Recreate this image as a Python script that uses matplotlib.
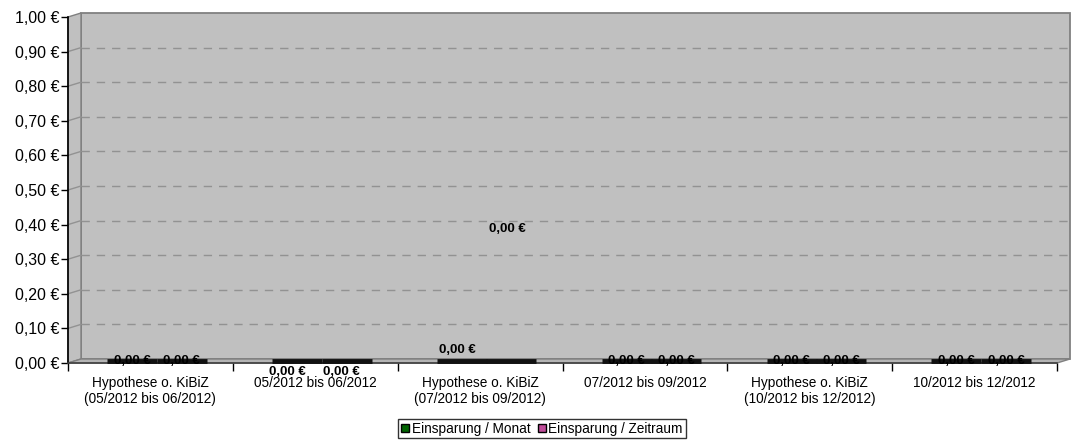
import matplotlib
matplotlib.use("Agg")
import matplotlib.pyplot as plt
from matplotlib.patches import Polygon, Rectangle, Patch
import numpy as np

plt.rcParams['font.family'] = ['Liberation Sans', 'DejaVu Sans']

# data
categories = ["Hypothese o. KiBiZ\n(05/2012 bis 06/2012)", "05/2012 bis 06/2012",
              "Hypothese o. KiBiZ\n(07/2012 bis 09/2012)", "07/2012 bis 09/2012",
              "Hypothese o. KiBiZ\n(10/2012 bis 12/2012)", "10/2012 bis 12/2012"]
monat = [0.0, 0.0, 0.0, 0.0, 0.0, 0.0]
zeitraum = [0.0, 0.0, 0.0, 0.0, 0.0, 0.0]
yticks = [0.0, 0.1, 0.2, 0.3, 0.4, 0.5, 0.6, 0.7, 0.8, 0.9, 1.0]

def euro(v):
    return f"{v:.2f}".replace(".", ",") + " €"

fig = plt.figure(figsize=(10.77, 4.4), dpi=100)
ax = fig.add_axes([68/1077, 77/440, 989/1077, 346/440])
ax.set_xlim(0, 6)
ax.set_ylim(0, 1)
ax.patch.set_visible(False)
for s in ax.spines.values():
    s.set_visible(False)

# fake 3d depth (in data units)
dx = 13/989*6
dy = 4/346
wall = "#c0c0c0"
edge = "#808080"

ax.add_patch(Rectangle((dx, dy), 6, 1, facecolor=wall, edgecolor=edge, lw=1.3, zorder=0, clip_on=False))
ax.add_patch(Polygon([(0, 0), (0, 1), (dx, 1+dy), (dx, dy)], closed=True,
                     facecolor=wall, edgecolor=edge, lw=1.0, zorder=0.5, clip_on=False))
ax.add_patch(Polygon([(0, 0), (6, 0), (6+dx, dy), (dx, dy)], closed=True,
                     facecolor="#b4b4b4", edgecolor=edge, lw=1.0, zorder=0.5, clip_on=False))

for y in yticks[1:-1]:
    ax.plot([dx, 6+dx], [y+dy, y+dy], ls=(0, (6, 5)), color="#929292", lw=1.0, zorder=1, clip_on=False)
    ax.plot([0, dx], [y, y+dy], color="#929292", lw=1.0, zorder=1, clip_on=False)

# axis lines
ax.plot([0, 0], [0, 1], color="black", lw=1.2, zorder=3, clip_on=False)
ax.plot([0, 6], [0, 0], color="#404040", lw=1.2, zorder=3, clip_on=False)

# bars (all zero)
x = np.arange(len(categories))
w = 0.303
x1 = x + 0.39
x2 = x + 0.69
ax.bar(x1, monat, w, bottom=dy*0.5, color="#006400", edgecolor="#111111", lw=3.5, zorder=4, clip_on=False)
ax.bar(x2, zeitraum, w, bottom=dy*0.5, color="#b04aa8", edgecolor="#111111", lw=3.5, zorder=4, clip_on=False)

# data labels
off1 = [(0, 2), (-10, -9), (-5, 13), (0, 2), (0, 2), (0, 2)]
off2 = [(0, 2), (-5, -9), (-4, 134), (0, 2), (0, 2), (0, 2)]
for i in range(len(categories)):
    ax.annotate(euro(monat[i]), (x1[i], 0), xytext=off1[i], textcoords="offset pixels",
                ha="center", va="center", fontsize=9.5, fontweight="bold", zorder=5, annotation_clip=False)
    ax.annotate(euro(zeitraum[i]), (x2[i], 0), xytext=off2[i], textcoords="offset pixels",
                ha="center", va="center", fontsize=9.5, fontweight="bold", zorder=5, annotation_clip=False)

# ticks
ax.set_yticks(yticks)
ax.set_yticklabels([euro(v) for v in yticks], fontsize=11.5)
ax.tick_params(axis="y", length=5, width=1, color="black", pad=1)
ax.set_xticks(np.arange(0, 7))
ax.set_xticklabels([])
ax.tick_params(axis="x", which="major", length=6, width=1, color="black")
ax.set_xticks(x + 0.5, minor=True)
ax.set_xticklabels(categories, minor=True, fontsize=9.8, va="top", linespacing=1.25)
ax.tick_params(axis="x", which="minor", length=0, pad=9)

handles = [Patch(facecolor="#006400", edgecolor="black", label="Einsparung / Monat"),
           Patch(facecolor="#c04c9a", edgecolor="black", label="Einsparung / Zeitraum")]
leg = fig.legend(handles=handles, loc="upper center", bbox_to_anchor=(542/1077, 1-419/440),
                 ncol=2, fontsize=9.8, frameon=True, fancybox=False, edgecolor="black",
                 handlelength=0.6, handleheight=0.6, handletextpad=0.2, columnspacing=0.5,
                 borderpad=0.2, borderaxespad=0)
leg.get_frame().set_linewidth(1.0)

fig.savefig("out.png", dpi=100)
